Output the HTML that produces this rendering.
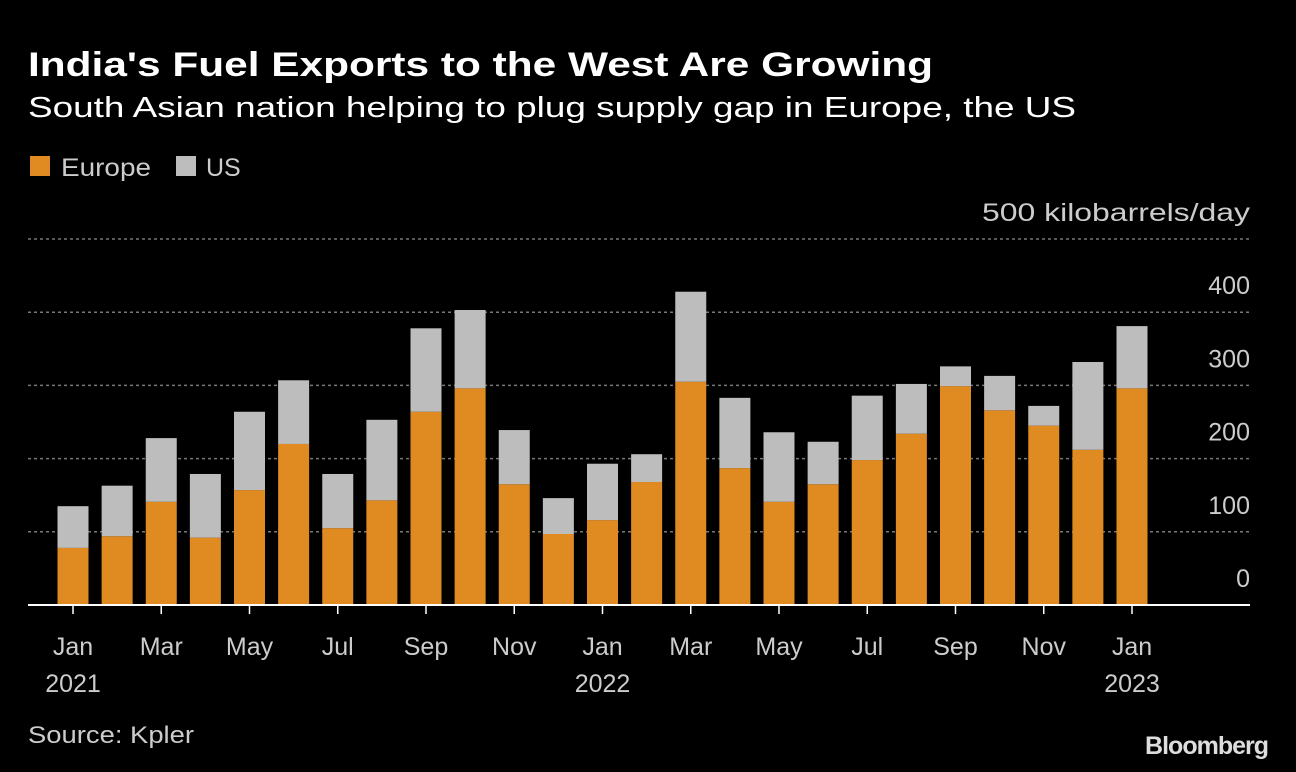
<!DOCTYPE html>
<html><head><meta charset="utf-8"><style>
body{margin:0;background:#000;width:1296px;height:772px;overflow:hidden;font-family:"Liberation Sans",sans-serif;color:#fff}
svg{position:absolute;left:0;top:0}
</style></head><body>
<svg width="1296" height="772">
<text x="28" y="76" font-size="34" font-weight="bold" fill="#fff" textLength="905" lengthAdjust="spacingAndGlyphs">India's Fuel Exports to the West Are Growing</text>
<text x="28" y="117" font-size="29" fill="#fff" textLength="1048" lengthAdjust="spacingAndGlyphs">South Asian nation helping to plug supply gap in Europe, the US</text>
<rect x="30" y="156" width="20" height="20" fill="#e08a22"/>
<text x="61" y="176" font-size="25" fill="#ccc" textLength="90" lengthAdjust="spacingAndGlyphs">Europe</text>
<rect x="176" y="156" width="20" height="20" fill="#bdbdbd"/>
<text x="206" y="176" font-size="25" fill="#ccc">US</text>
<g id="grid"></g><g id="bars"></g><g id="xax"></g>
<text x="28" y="743" font-size="24" fill="#ccc" textLength="166" lengthAdjust="spacingAndGlyphs">Source: Kpler</text>
<text x="1268" y="754" font-size="25" font-weight="bold" fill="#ddd" text-anchor="end" letter-spacing="-1">Bloomberg</text>
</svg>
<script>
const europe=[78,94,141,92,157,220,105,143,264,296,165,97,116,168,305,187,141,165,198,234,299,266,245,212,296];
const us=[57,69,87,87,107,87,74,110,114,107,74,49,77,38,123,96,95,58,88,68,27,47,27,120,85];
const yTicks=[0,100,200,300,400,500];
const xLabels=[[0,"Jan","2021"],[2,"Mar",""],[4,"May",""],[6,"Jul",""],[8,"Sep",""],[10,"Nov",""],[12,"Jan","2022"],[14,"Mar",""],[16,"May",""],[18,"Jul",""],[20,"Sep",""],[22,"Nov",""],[24,"Jan","2023"]];
const NS="http://www.w3.org/2000/svg";
const y=v=>605-v*0.732;
const x=i=>73+i*44.125;
function mk(tag,attrs,parent){const e=document.createElementNS(NS,tag);for(const k in attrs)e.setAttribute(k,attrs[k]);document.getElementById(parent).appendChild(e);return e;}
yTicks.forEach(t=>{
 if(t>0){const l=mk("line",{x1:28,x2:1250,y1:y(t),y2:y(t),stroke:"#777","stroke-width":1.5,"stroke-dasharray":"3,3"},"grid");
 
 }
 const tx=mk("text",{x:1250,y:y(t)-18,"font-size":25,fill:"#ccc","text-anchor":"end"},"grid");
 if(t===500){tx.setAttribute("textLength","268");tx.setAttribute("lengthAdjust","spacingAndGlyphs");}
 tx.textContent=t===500?"500 kilobarrels/day":String(t);
 
 
});
europe.forEach((e,i)=>{
 const u=us[i];
 const r1=mk("rect",{x:x(i)-15.5,y:y(e),width:31,height:y(0)-y(e),fill:"#e08a22"},"bars");
 
 
 const r2=mk("rect",{x:x(i)-15.5,y:y(e+u),width:31,height:y(e)-y(e+u),fill:"#bdbdbd"},"bars");
 
 
});
const base=mk("line",{x1:28,x2:1250,y1:605,y2:605,stroke:"#fff","stroke-width":2},"xax");


xLabels.forEach(([i,m,yr])=>{
 const tk=mk("line",{x1:x(i),x2:x(i),y1:605,y2:614,stroke:"#fff","stroke-width":1.5},"xax");
 
 
 const t=mk("text",{x:x(i),y:655,"font-size":25,fill:"#ccc","text-anchor":"middle"},"xax");
 t.textContent=m;
 
 
 if(yr){const t2=mk("text",{x:x(i),y:692,"font-size":25,fill:"#ccc","text-anchor":"middle"},"xax");
 t2.textContent=yr;
 
 }
});
</script>
</body></html>
